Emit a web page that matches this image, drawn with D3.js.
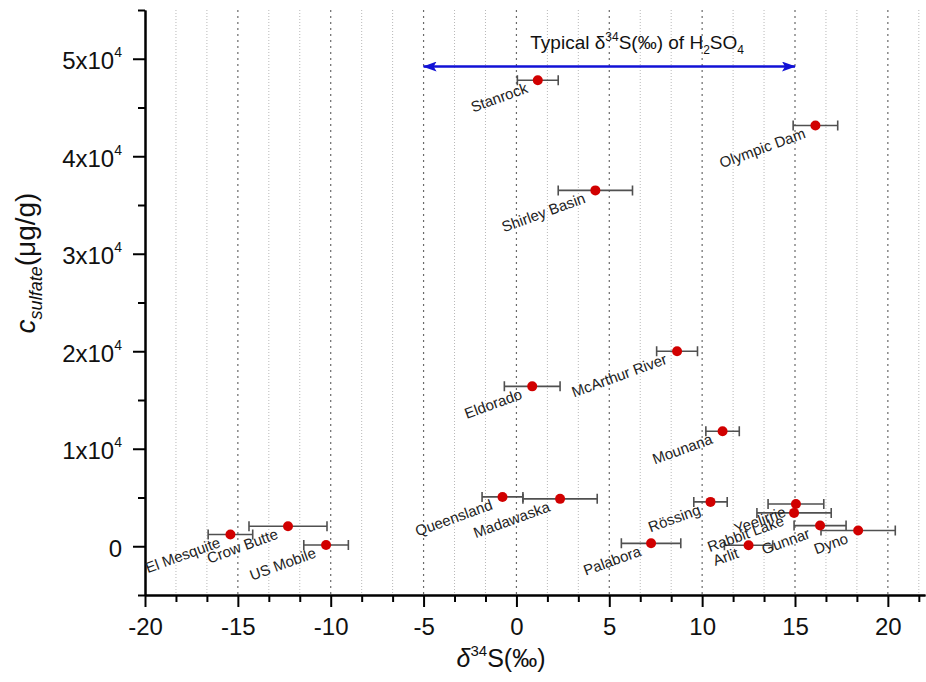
<!DOCTYPE html>
<html><head><meta charset="utf-8">
<script src="https://cdn.jsdelivr.net/npm/d3@7"></script>
<style>
body{margin:0;background:#fff}
svg{display:block;font-family:"Liberation Sans",Arial,sans-serif}
</style>
</head><body>
<svg id="c" width="926" height="682"></svg>
<script>
// ---- data ----
const sites = ["Stanrock","Olympic Dam","Shirley Basin","McArthur River","Eldorado","Mounana","Queensland","Madawaska","Palabora","Rössing","Yeelirrie","Rabbit Lake","Gunnar","Dyno","Arlit","El Mesquite","Crow Butte","US Mobile"];
const delta34S = [1.15,16.1,4.25,8.65,0.85,11.1,-0.75,2.35,7.25,10.45,15.05,14.95,16.35,18.4,12.5,-15.4,-12.3,-10.25];
const delta34SErr = [1.1,1.2,2.0,1.1,1.5,0.9,1.1,2.0,1.6,0.9,1.5,2.0,1.4,2.0,1.3,1.2,2.1,1.2];
const sulfate = [47800,43150,36500,20000,16400,11800,5060,4860,300,4550,4340,3420,2120,1610,100,1200,2050,130];

const xMajorTicks = [-20,-15,-10,-5,0,5,10,15,20];
const xTickLabels = ["-20","-15","-10","-5","0","5","10","15","20"];
const xMinorTicks = [-18.333,-16.667,-13.333,-11.667,-8.333,-6.667,-3.333,-1.667,1.667,3.333,6.667,8.333,11.667,13.333,16.667,18.333,21.667];
const yMajorTicks = [0,10000,20000,30000,40000,50000];
const yTickMantissa = ["0","1","2","3","4","5"];
const yMinorTicks = [-5000,5000,15000,25000,35000,45000,55000];

const h2so4Range = [-5,15];
const h2so4Y = 49200;
const h2so4TextPos = [6.5, 51000];

// ---- scales ----
const svg = d3.select("#c");
const x = d3.scaleLinear().domain([-20,22]).range([145,925]);
const y = d3.scaleLinear().domain([-5000,55000]).range([595,10]);

// ---- grid ----
const gridVals = xMinorTicks.concat(xMajorTicks.slice(1));
svg.append("g").selectAll("line").data(gridVals).join("line")
  .attr("x1",d=>x(d)).attr("x2",d=>x(d))
  .attr("y1",y(55000)).attr("y2",y(-5000))
  .attr("stroke",d=>xMajorTicks.includes(d)?"#6a6a6a":"#b8b8b8")
  .attr("stroke-width",d=>xMajorTicks.includes(d)?1.2:1)
  .attr("stroke-dasharray",d=>xMajorTicks.includes(d)?"2,4":"1,2");

// ---- axes ----
function styleAxis(g){
  g.select(".domain").attr("stroke","#000").attr("stroke-width",2);
  g.selectAll(".tick line").attr("stroke","#000").attr("stroke-width",2);
  g.selectAll("text").attr("fill","#111").style("font-size","24px")
   .style("font-family","'Liberation Sans',Arial,sans-serif");
}
const gx1 = svg.append("g").attr("transform",`translate(0,${y(-5000)})`)
  .call(d3.axisBottom(x).tickValues(xMinorTicks).tickSize(7).tickFormat("").tickSizeOuter(0));
styleAxis(gx1);
const gx2 = svg.append("g").attr("transform",`translate(0,${y(-5000)})`)
  .call(d3.axisBottom(x).tickValues(xMajorTicks).tickSize(12).tickSizeOuter(0)
        .tickFormat((d,i)=>xTickLabels[i]));
styleAxis(gx2);
gx2.selectAll("text").attr("y",23);

const gy1 = svg.append("g").attr("transform",`translate(${x(-20)},0)`)
  .call(d3.axisLeft(y).tickValues(yMinorTicks).tickSize(7).tickFormat("").tickSizeOuter(0));
styleAxis(gy1);
const gy2 = svg.append("g").attr("transform",`translate(${x(-20)},0)`)
  .call(d3.axisLeft(y).tickValues(yMajorTicks).tickSize(12).tickSizeOuter(0)
        .tickFormat((d,i)=>yTickMantissa[i]));
styleAxis(gy2);
gy2.selectAll("text").attr("x",-23).attr("dy","0.42em").each(function(d,i){
  const t = d3.select(this);
  if (d !== 0){
    t.text(null);
    t.append("tspan").text(yTickMantissa[i] + "x10");
    t.append("tspan").attr("dy",-12).style("font-size","14px").text("4");
  }
});

// ---- axis titles ----
const xt = svg.append("text").attr("x",501).attr("y",667).attr("text-anchor","middle")
  .style("font-size","25px").attr("fill","#111");
xt.append("tspan").style("font-style","italic").text("δ");
xt.append("tspan").attr("dy",-11).style("font-size","15px").text("34");
xt.append("tspan").attr("dy",11).text("S(‰)");

const yt = svg.append("text").attr("transform","translate(35,263) rotate(-90)")
  .attr("text-anchor","middle").style("font-size","28px").attr("fill","#111");
yt.append("tspan").style("font-style","italic").text("c");
yt.append("tspan").attr("dy",7).style("font-style","italic").style("font-size","18px").text("sulfate");
yt.append("tspan").attr("dy",-7).text("(μg/g)");

// ---- H2SO4 arrow ----
const defs = svg.append("defs");
defs.append("marker").attr("id","ah").attr("viewBox","0 0 14 10")
  .attr("refX",13).attr("refY",5).attr("markerWidth",14).attr("markerHeight",10)
  .attr("markerUnits","userSpaceOnUse").attr("orient","auto-start-reverse")
  .append("path").attr("d","M0,0 L14,5 L0,10 L3,5 Z").attr("fill","#1212d6");
svg.append("line")
  .attr("x1",x(h2so4Range[0])).attr("x2",x(h2so4Range[1]))
  .attr("y1",y(h2so4Y)).attr("y2",y(h2so4Y))
  .attr("stroke","#1212d6").attr("stroke-width",2.5)
  .attr("marker-start","url(#ah)").attr("marker-end","url(#ah)");
const tt = svg.append("text").attr("x",x(h2so4TextPos[0])).attr("y",y(h2so4TextPos[1]))
  .attr("text-anchor","middle").style("font-size","19px").attr("fill","#111");
tt.append("tspan").text("Typical ");
tt.append("tspan").text("δ");
tt.append("tspan").attr("dy",-8).style("font-size","12px").text("34");
tt.append("tspan").attr("dy",8).text("S(‰) of H");
tt.append("tspan").attr("dy",5).style("font-size","12px").text("2");
tt.append("tspan").attr("dy",-5).text("SO");
tt.append("tspan").attr("dy",5).style("font-size","12px").text("4");

// ---- error bars ----
const idx = d3.range(sites.length);
const eb = svg.append("g").attr("stroke","#505050").attr("stroke-width",1.6).attr("fill","none");
eb.selectAll("path").data(idx).join("path")
  .attr("d",i=>{
    const x0 = x(delta34S[i]-delta34SErr[i]), x1 = x(delta34S[i]+delta34SErr[i]), yy = y(sulfate[i]);
    return `M${x0},${yy-5}V${yy+5}M${x0},${yy}H${x1}M${x1},${yy-5}V${yy+5}`;
  });

// ---- points ----
svg.append("g").selectAll("circle").data(idx).join("circle")
  .attr("cx",i=>x(delta34S[i])).attr("cy",i=>y(sulfate[i])).attr("r",5)
  .attr("fill","#d10000");

// ---- site labels ----
svg.append("g").selectAll("text").data(idx).join("text")
  .attr("transform",i=>`translate(${x(delta34S[i])-9},${y(sulfate[i])+12}) rotate(-20)`)
  .attr("text-anchor","end").style("font-size","15px").attr("fill","#222")
  .text(i=>sites[i]);
</script>
</body></html>
